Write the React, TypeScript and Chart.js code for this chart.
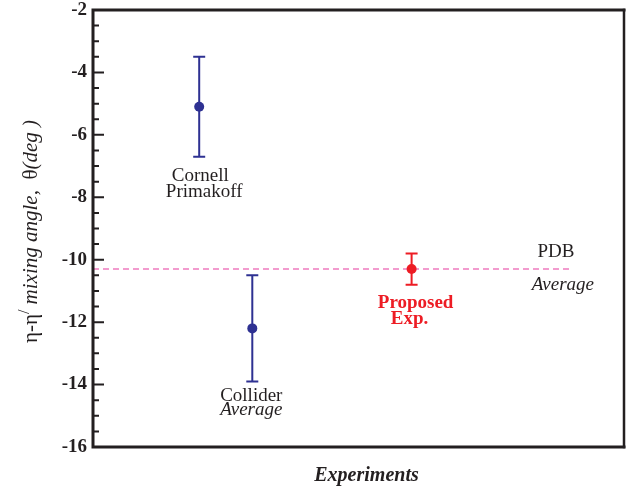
import React, { useEffect, useRef } from 'react';
import { Chart, registerables } from 'chart.js';

Chart.register(...registerables);

// ---- data ----
const experimentX = [2, 3, 6];
const mixingAngle = [-5.1, -12.2, -10.3];
const angleError = [1.6, 1.7, 0.5];
const measuredIdx = [0, 1];
const proposedIdx = [2];
const pdbAverage = -10.3;
const pdbSpan = [0, 9];
const yMin = -16;
const yMax = -2;
const yStep = 2;
const yMinorStep = 0.5;
const xMin = 0;
const xMax = 10;

// ---- style ----
const INK = '#231F20';
const BLUE = '#2E3192';
const RED = '#ED1C24';
const PINK = '#EE7BBF';
const SERIF = '"Liberation Serif", "Times New Roman", serif';

// text annotations: anchored to the bottom of each error bar (or the PDB line end)
const pointLabels = [
  { idx: 0, color: INK, lines: [
    { text: 'Cornell', font: `normal 19px ${SERIF}`, dx: 1, dy: 24 },
    { text: 'Primakoff', font: `normal 19px ${SERIF}`, dx: 5, dy: 40 },
  ] },
  { idx: 1, color: INK, lines: [
    { text: 'Collider', font: `normal 19px ${SERIF}`, dx: -1, dy: 20 },
    { text: 'Average', font: `italic 19px ${SERIF}`, dx: -1, dy: 34 },
  ] },
  { idx: 2, color: RED, lines: [
    { text: 'Proposed', font: `bold 19px ${SERIF}`, dx: 4, dy: 23 },
    { text: 'Exp.', font: `bold 19px ${SERIF}`, dx: -2, dy: 39 },
  ] },
];
const pdbLabels = [
  { text: 'PDB', font: `normal 19px ${SERIF}`, dx: -15, dy: -12 },
  { text: 'Average', font: `italic 19px ${SERIF}`, dx: -8, dy: 21 },
];
const yTitleParts = [
  { text: 'η-η', style: 'normal', size: 21, rise: 0 },
  { text: '/', style: 'normal', size: 16, rise: 8 },
  { text: ' mixing angle,  ', style: 'italic', size: 21, rise: 0 },
  { text: 'θ', style: 'normal', size: 21, rise: 0 },
  { text: '(deg )', style: 'italic', size: 21, rise: 0 },
];
const xTitle = 'Experiments';

const errorBarPlugin = {
  id: 'errorBars',
  beforeDatasetsDraw(chart: any) {
    const { ctx } = chart;
    const x = chart.scales.x;
    const y = chart.scales.y;
    chart.data.datasets.forEach((ds: any) => {
      if (!ds.errors) return;
      ds.data.forEach((p: any, i: number) => {
        const e = ds.errors[i];
        const px = x.getPixelForValue(p.x);
        const top = y.getPixelForValue(p.y + e);
        const bot = y.getPixelForValue(p.y - e);
        ctx.save();
        ctx.strokeStyle = ds.backgroundColor;
        ctx.lineWidth = 2;
        ctx.beginPath();
        ctx.moveTo(px, top);
        ctx.lineTo(px, bot);
        ctx.moveTo(px - 6, top);
        ctx.lineTo(px + 6, top);
        ctx.moveTo(px - 6, bot);
        ctx.lineTo(px + 6, bot);
        ctx.stroke();
        ctx.restore();
      });
    });
  },
};

const framePlugin = {
  id: 'frame',
  afterDraw(chart: any) {
    const { ctx, chartArea: a } = chart;
    const x = chart.scales.x;
    const y = chart.scales.y;
    ctx.save();
    // box
    ctx.strokeStyle = INK;
    ctx.lineCap = 'square';
    ctx.lineWidth = 3;
    ctx.beginPath();
    ctx.moveTo(a.left, a.top);
    ctx.lineTo(a.left, a.bottom);
    ctx.moveTo(a.left, a.top);
    ctx.lineTo(a.right, a.top);
    ctx.moveTo(a.left, a.bottom);
    ctx.lineTo(a.right, a.bottom);
    ctx.stroke();
    ctx.lineWidth = 2.5;
    ctx.beginPath();
    ctx.moveTo(a.right, a.top);
    ctx.lineTo(a.right, a.bottom);
    ctx.stroke();
    // inward ticks
    ctx.lineWidth = 2;
    ctx.lineCap = 'butt';
    ctx.beginPath();
    for (let v = yMin; v <= yMax + 1e-9; v += yMinorStep) {
      const isMajor = Math.abs((v - yMin) / yStep - Math.round((v - yMin) / yStep)) < 1e-6;
      if (v === yMin || Math.abs(v - yMax) < 1e-9) continue;
      const py = y.getPixelForValue(v);
      ctx.moveTo(a.left, py);
      ctx.lineTo(a.left + (isMajor ? 11 : 6), py);
    }
    ctx.stroke();

    // point labels
    ctx.textAlign = 'center';
    ctx.textBaseline = 'alphabetic';
    pointLabels.forEach((lab) => {
      const px = x.getPixelForValue(experimentX[lab.idx]);
      const pb = y.getPixelForValue(mixingAngle[lab.idx] - angleError[lab.idx]);
      ctx.fillStyle = lab.color;
      lab.lines.forEach((ln) => {
        ctx.font = ln.font;
        ctx.fillText(ln.text, px + ln.dx, pb + ln.dy);
      });
    });
    // PDB labels
    const ex = x.getPixelForValue(pdbSpan[1]);
    const ey = y.getPixelForValue(pdbAverage);
    ctx.fillStyle = INK;
    pdbLabels.forEach((ln) => {
      ctx.font = ln.font;
      ctx.fillText(ln.text, ex + ln.dx, ey + ln.dy);
    });

    // x title
    ctx.font = `italic bold 20px ${SERIF}`;
    ctx.fillText(xTitle, (a.left + a.right) / 2 + 8, a.bottom + 34);

    // y title (rotated, mixed styles)
    ctx.save();
    ctx.translate(37, (a.top + a.bottom) / 2 + 3);
    ctx.rotate(-Math.PI / 2);
    ctx.textAlign = 'left';
    let total = 0;
    yTitleParts.forEach((p) => {
      ctx.font = `${p.style} ${p.size}px ${SERIF}`;
      total += ctx.measureText(p.text).width;
    });
    let cx = -total / 2;
    yTitleParts.forEach((p) => {
      ctx.font = `${p.style} ${p.size}px ${SERIF}`;
      ctx.fillText(p.text, cx, -p.rise);
      cx += ctx.measureText(p.text).width;
    });
    ctx.restore();
    ctx.restore();
  },
};

export default function App() {
  const ref = useRef<HTMLCanvasElement | null>(null);
  useEffect(() => {
    if (!ref.current) return;
    const chart = new Chart(ref.current, {
      type: 'scatter',
      data: {
        datasets: [
          {
            label: 'Measured',
            data: measuredIdx.map((i) => ({ x: experimentX[i], y: mixingAngle[i] })),
            errors: measuredIdx.map((i) => angleError[i]),
            backgroundColor: BLUE,
            borderColor: BLUE,
            borderWidth: 0,
            pointRadius: 5,
          } as any,
          {
            label: 'Proposed',
            data: proposedIdx.map((i) => ({ x: experimentX[i], y: mixingAngle[i] })),
            errors: proposedIdx.map((i) => angleError[i]),
            backgroundColor: RED,
            borderColor: RED,
            borderWidth: 0,
            pointRadius: 5,
          } as any,
          {
            label: 'PDB Average',
            data: pdbSpan.map((v) => ({ x: v, y: pdbAverage })),
            showLine: true,
            borderColor: PINK,
            borderWidth: 1.5,
            borderDash: [6, 4],
            pointRadius: 0,
          } as any,
        ],
      },
      options: {
        animation: false,
        responsive: false,
        devicePixelRatio: 1,
        layout: { padding: { top: 10, right: 5, bottom: 43, left: 0 } },
        plugins: { legend: { display: false }, tooltip: { enabled: false } },
        scales: {
          x: { type: 'linear', min: xMin, max: xMax, display: false },
          y: {
            type: 'linear',
            min: yMin,
            max: yMax,
            grid: { display: false, drawTicks: false },
            border: { display: false },
            ticks: {
              stepSize: yStep,
              padding: 6,
              color: INK,
              font: { family: SERIF, weight: 'bold', size: 19, lineHeight: 1 },
            },
            afterFit: (s: any) => {
              s.width = 93;
              s.paddingTop = 0;
              s.paddingBottom = 0;
            },
          },
        },
      } as any,
      plugins: [errorBarPlugin, framePlugin],
    });
    return () => chart.destroy();
  }, []);
  return (
    <div style={{ position: 'absolute', left: 0, top: 0 }}>
      <canvas ref={ref} width={629} height={490} style={{ display: 'block', width: 629, height: 490 }} />
    </div>
  );
}
